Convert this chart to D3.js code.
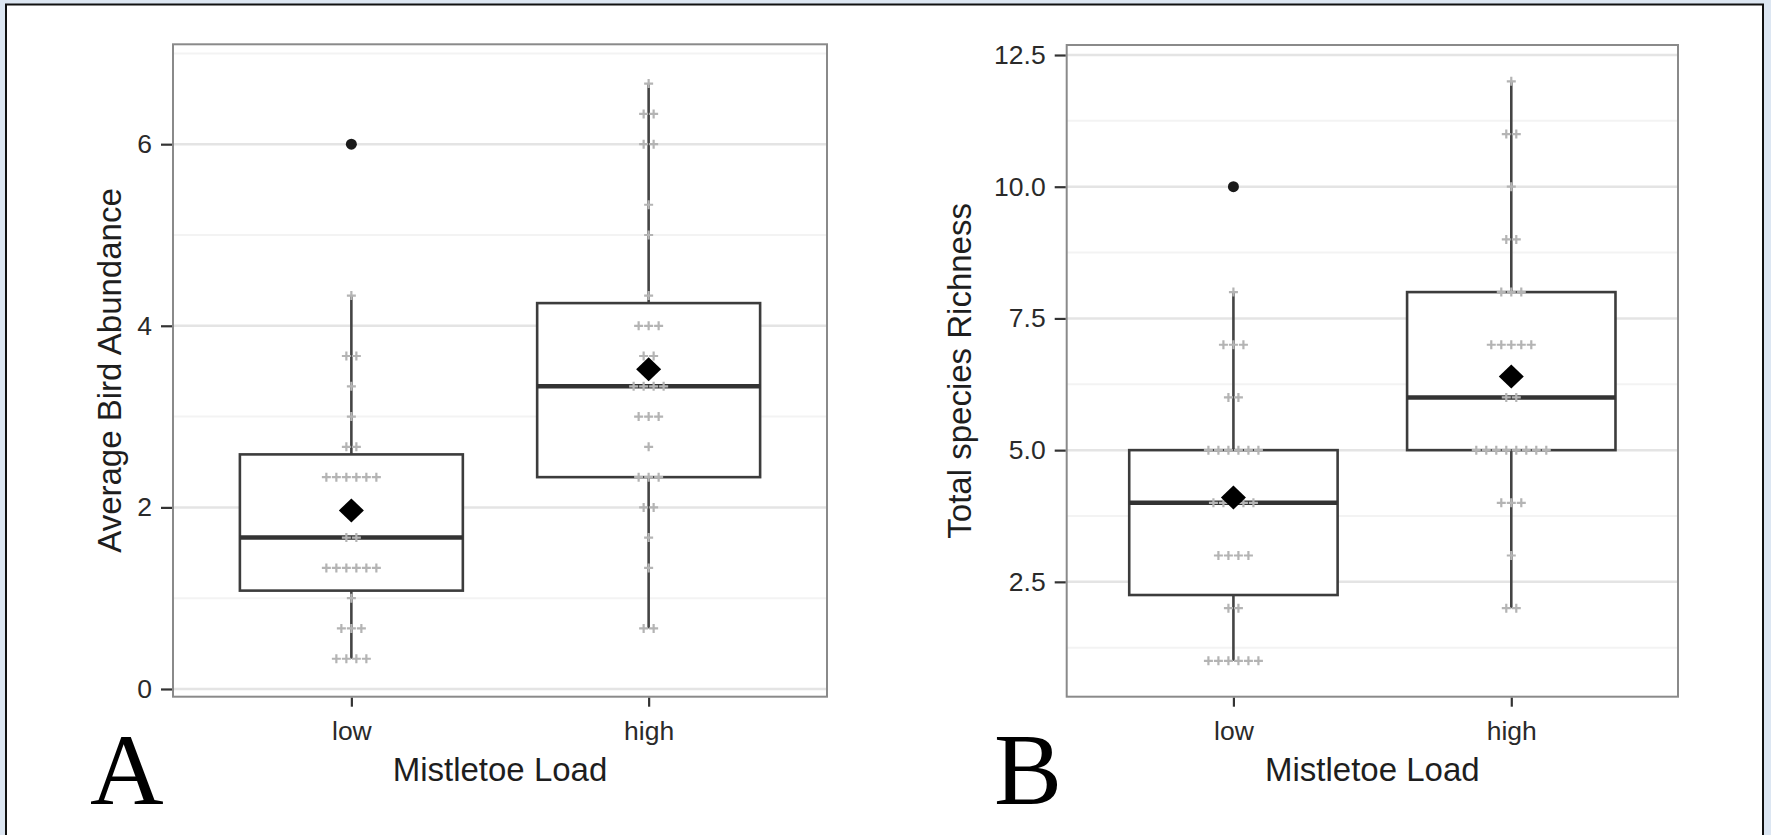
<!DOCTYPE html>
<html>
<head>
<meta charset="utf-8">
<script src="https://cdn.jsdelivr.net/npm/d3@7"></script>
<style>
  body { margin: 0; background: #dce6f2; }
  text { font-family: "Liberation Sans", Arial, sans-serif; }
</style>
</head>
<body>
<svg id="chart" width="1771" height="835"></svg>
<script>
// categories
var groups = ["low", "high"];

// average bird abundance per site (averages of three counts)
var abundanceLow = [0.333, 0.333, 0.333, 0.333, 0.667, 0.667, 0.667, 1, 1.333, 1.333,
                    1.333, 1.333, 1.333, 1.333, 1.667, 1.667, 2.333, 2.333, 2.333, 2.333,
                    2.333, 2.333, 2.667, 2.667, 3, 3.333, 3.667, 3.667, 4.333, 6];
var abundanceHigh = [0.667, 0.667, 1.333, 1.667, 2, 2, 2.333, 2.333, 2.333, 2.667,
                     3, 3, 3, 3.333, 3.333, 3.333, 3.333, 3.667, 3.667, 4,
                     4, 4, 4.333, 5, 5.333, 6, 6, 6.333, 6.333, 6.667];

// total species richness per site
var richnessLow = [1, 1, 1, 1, 1, 1, 2, 2, 3, 3,
                   3, 3, 4, 4, 4, 4, 4, 5, 5, 5,
                   5, 5, 5, 6, 6, 7, 7, 7, 8, 10];
var richnessHigh = [2, 2, 3, 4, 4, 4, 5, 5, 5, 5,
                    5, 5, 5, 5, 6, 6, 7, 7, 7, 7,
                    7, 8, 8, 8, 9, 9, 10, 11, 11, 12];

// tick labels
var abundanceTicks = [0, 2, 4, 6];
var abundanceMinor = [1, 3, 5, 7];
var richnessTicks = [2.5, 5, 7.5, 10, 12.5];
var richnessMinor = [1.25, 3.75, 6.25, 8.75, 11.25];

var svg = d3.select("#chart");

// white figure sheet with dark frame
svg.append("rect")
    .attr("x", 6).attr("y", 4.5)
    .attr("width", 1757).attr("height", 840)
    .attr("fill", "white")
    .attr("stroke", "#111")
    .attr("stroke-width", 2);

var panels = [
  { letter: "A", letterX: 90, left: 173, right: 827, top: 44.3, bottom: 696.7,
    domain: [-0.085, 7.10], ticks: abundanceTicks, minor: abundanceMinor, fmt: d3.format("d"),
    ylabel: "Average Bird Abundance", ylabelX: 121,
    series: { low: abundanceLow, high: abundanceHigh } },
  { letter: "B", letterX: 994, left: 1066.7, right: 1678, top: 45, bottom: 696.7,
    domain: [0.32, 12.69], ticks: richnessTicks, minor: richnessMinor, fmt: d3.format(".1f"),
    ylabel: "Total species Richness", ylabelX: 971,
    series: { low: richnessLow, high: richnessHigh } }
];

function boxStats(values) {
  var v = values.slice().sort(d3.ascending);
  var q1 = d3.quantile(v, 0.25), med = d3.quantile(v, 0.5), q3 = d3.quantile(v, 0.75);
  var iqr = q3 - q1;
  var inside = v.filter(function(d) { return d >= q1 - 1.5 * iqr && d <= q3 + 1.5 * iqr; });
  return {
    q1: q1, median: med, q3: q3,
    lo: d3.min(inside), hi: d3.max(inside),
    mean: d3.mean(v),
    outliers: v.filter(function(d) { return d < q1 - 1.5 * iqr || d > q3 + 1.5 * iqr; })
  };
}

panels.forEach(function(p) {
  var g = svg.append("g");

  var x = d3.scalePoint()
      .domain(groups)
      .range([p.left, p.right])
      .padding(0.6);
  var y = d3.scaleLinear()
      .domain(p.domain)
      .range([p.bottom, p.top]);
  var boxW = x.step() * 0.75;

  // grid lines
  g.selectAll(".minor")
    .data(p.minor.filter(function(d) { return y(d) > p.top; }))
    .enter().append("line")
      .attr("x1", p.left).attr("x2", p.right)
      .attr("y1", function(d) { return y(d); })
      .attr("y2", function(d) { return y(d); })
      .attr("stroke", "#f3f3f3").attr("stroke-width", 2);
  g.selectAll(".major")
    .data(p.ticks)
    .enter().append("line")
      .attr("x1", p.left).attr("x2", p.right)
      .attr("y1", function(d) { return y(d); })
      .attr("y2", function(d) { return y(d); })
      .attr("stroke", "#e4e4e4").attr("stroke-width", 2.5);

  groups.forEach(function(grp) {
    var vals = p.series[grp];
    var s = boxStats(vals);
    var cx = x(grp);

    // whiskers
    g.append("line")
      .attr("x1", cx).attr("x2", cx)
      .attr("y1", y(s.hi)).attr("y2", y(s.q3))
      .attr("stroke", "#444").attr("stroke-width", 2.6);
    g.append("line")
      .attr("x1", cx).attr("x2", cx)
      .attr("y1", y(s.q1)).attr("y2", y(s.lo))
      .attr("stroke", "#444").attr("stroke-width", 2.6);

    // box
    g.append("rect")
      .attr("x", cx - boxW / 2)
      .attr("y", y(s.q3))
      .attr("width", boxW)
      .attr("height", y(s.q1) - y(s.q3))
      .attr("fill", "white")
      .attr("stroke", "#3c3c3c")
      .attr("stroke-width", 2.6);

    // median
    g.append("line")
      .attr("x1", cx - boxW / 2).attr("x2", cx + boxW / 2)
      .attr("y1", y(s.median)).attr("y2", y(s.median))
      .attr("stroke", "#333").attr("stroke-width", 4.5);

    // individual sites, spread sideways within each value row
    var rows = d3.group(vals, function(d) { return d; });
    var pts = [];
    rows.forEach(function(list, val) {
      list.forEach(function(d, i) {
        pts.push({ v: val, dx: (i - (list.length - 1) / 2) * 10 });
      });
    });
    g.selectAll(".pt-" + grp)
      .data(pts)
      .enter().append("path")
        .attr("d", "M-4.5,0H4.5M0,-4.5V4.5")
        .attr("transform", function(d) { return "translate(" + (cx + d.dx) + "," + y(d.v) + ")"; })
        .attr("stroke", "#b4b4b4")
        .attr("stroke-width", 2.2);

    // outliers
    g.selectAll(".out-" + grp)
      .data(s.outliers)
      .enter().append("circle")
        .attr("cx", cx)
        .attr("cy", function(d) { return y(d); })
        .attr("r", 5.5)
        .attr("fill", "#1a1a1a");

    // mean
    g.append("path")
      .attr("d", "M0,-12L12.5,0L0,12L-12.5,0Z")
      .attr("transform", "translate(" + cx + "," + y(s.mean) + ")")
      .attr("fill", "#000");
  });

  // panel border
  g.append("rect")
    .attr("x", p.left).attr("y", p.top)
    .attr("width", p.right - p.left)
    .attr("height", p.bottom - p.top)
    .attr("fill", "none")
    .attr("stroke", "#8a8a8a")
    .attr("stroke-width", 2);

  // y axis
  var yAxis = g.append("g")
      .attr("transform", "translate(" + (p.left - 1) + ",0)")
      .call(d3.axisLeft(y).tickValues(p.ticks).tickFormat(p.fmt).tickSize(11).tickPadding(9));
  yAxis.select(".domain").remove();
  yAxis.selectAll("line").attr("stroke", "#333").attr("stroke-width", 2.2);
  yAxis.selectAll("text")
      .style("font-size", "26.5px")
      .style("font-family", "'Liberation Sans', Arial, sans-serif")
      .attr("fill", "#2a2a2a");

  // x axis
  var xAxis = g.append("g")
      .attr("transform", "translate(0," + (p.bottom + 1) + ")")
      .call(d3.axisBottom(x).tickSize(9).tickPadding(14));
  xAxis.select(".domain").remove();
  xAxis.selectAll("line").attr("stroke", "#333").attr("stroke-width", 2.2);
  xAxis.selectAll("text")
      .style("font-size", "26.5px")
      .style("font-family", "'Liberation Sans', Arial, sans-serif")
      .attr("fill", "#2a2a2a");

  // axis titles
  g.append("text")
    .attr("x", (p.left + p.right) / 2)
    .attr("y", 781)
    .attr("text-anchor", "middle")
    .style("font-size", "33px")
    .attr("fill", "#1e1e1e")
    .text("Mistletoe Load");

  g.append("text")
    .attr("transform", "translate(" + p.ylabelX + "," + ((p.top + p.bottom) / 2) + ") rotate(-90)")
    .attr("text-anchor", "middle")
    .style("font-size", "33px")
    .attr("fill", "#1e1e1e")
    .text(p.ylabel);

  // panel letter
  g.append("text")
    .attr("x", p.letterX)
    .attr("y", 804)
    .style("font-family", "'Liberation Serif', 'Times New Roman', serif")
    .style("font-size", "102px")
    .attr("fill", "#000")
    .text(p.letter);
});
</script>
</body>
</html>
